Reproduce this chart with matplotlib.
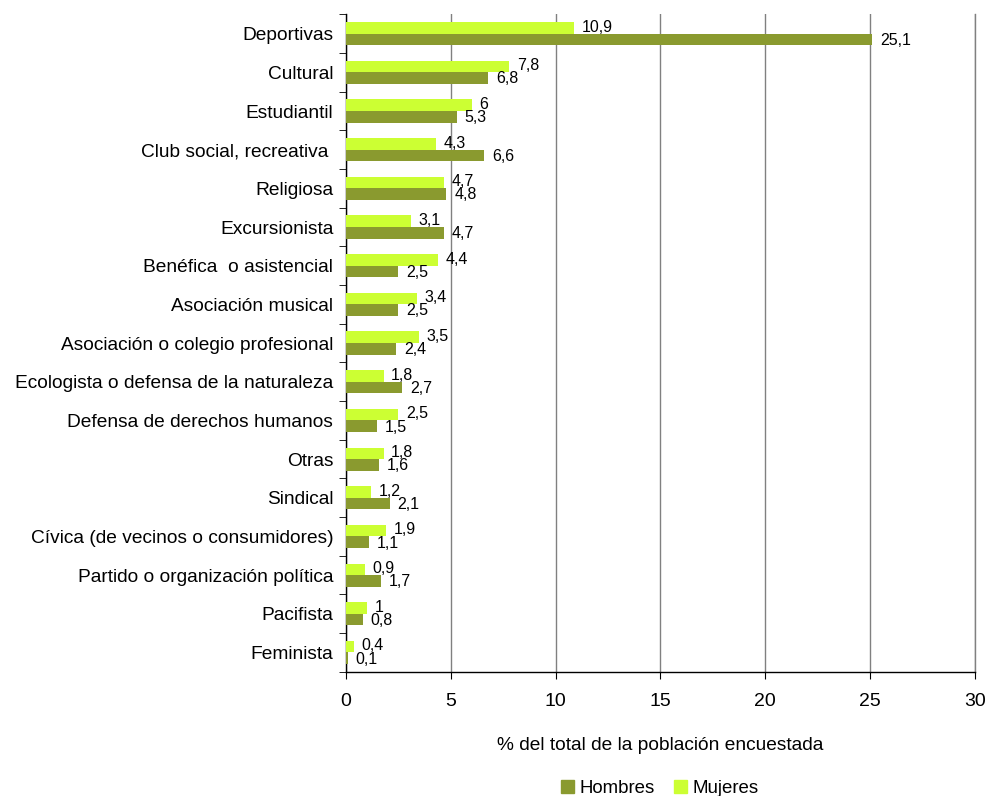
import matplotlib
matplotlib.use("Agg")
import matplotlib.pyplot as plt
import numpy as np
from matplotlib.patches import Patch

plt.rcParams["font.family"] = ["Liberation Sans", "DejaVu Sans"]

categories = ["Deportivas", "Cultural", "Estudiantil", "Club social, recreativa ",
              "Religiosa", "Excursionista", "Benéfica  o asistencial",
              "Asociación musical", "Asociación o colegio profesional",
              "Ecologista o defensa de la naturaleza", "Defensa de derechos humanos",
              "Otras", "Sindical", "Cívica (de vecinos o consumidores)",
              "Partido o organización política", "Pacifista", "Feminista"]
mujeres = [10.9, 7.8, 6, 4.3, 4.7, 3.1, 4.4, 3.4, 3.5, 1.8, 2.5, 1.8, 1.2, 1.9, 0.9, 1, 0.4]
hombres = [25.1, 6.8, 5.3, 6.6, 4.8, 4.7, 2.5, 2.5, 2.4, 2.7, 1.5, 1.6, 2.1, 1.1, 1.7, 0.8, 0.1]
xticks = [0, 5, 10, 15, 20, 25, 30]

c_h = "#8A9A2F"
c_m = "#CCFF33"

fig = plt.figure(figsize=(9.88, 7.96), dpi=100)
ax = fig.add_axes([0.350, 0.156, 0.637, 0.826])

n = len(categories)
y = np.arange(n)
h = 0.30
ax.barh(y - h / 2, mujeres, height=h, color=c_m, zorder=3)
ax.barh(y + h / 2, hombres, height=h, color=c_h, zorder=3)

def fmt(v):
    return ("%g" % v).replace(".", ",")

for i in range(n):
    ax.annotate(fmt(mujeres[i]), (mujeres[i], y[i] - h / 2 - 0.02), xytext=(5.5, 0),
                textcoords="offset points", va="center", ha="left", fontsize=11.5, zorder=4)
    ax.annotate(fmt(hombres[i]), (hombres[i], y[i] + h / 2 + 0.02), xytext=(5.5, 0),
                textcoords="offset points", va="center", ha="left", fontsize=11.5, zorder=4)

ax.set_ylim(n - 0.5, -0.5)
ax.set_xlim(0, 30)
ax.set_xticks(xticks)
ax.set_xticklabels([str(t) for t in xticks], fontsize=14)
ax.set_yticks(y)
ax.set_yticklabels(categories, fontsize=13.8)
ax.set_yticks(np.arange(-0.5, n, 1), minor=True)
ax.tick_params(axis="y", which="major", length=0, pad=9)
ax.tick_params(axis="y", which="minor", length=5, direction="out")
ax.tick_params(axis="x", length=5, direction="out", pad=10)

ax.grid(axis="x", color="#808080", linewidth=1, zorder=0)
ax.axvline(30, color="#808080", linewidth=1, zorder=0, clip_on=False)
ax.set_axisbelow(True)
for s in ["top", "right"]:
    ax.spines[s].set_visible(False)
for s in ["left", "bottom"]:
    ax.spines[s].set_color("black")
    ax.spines[s].set_linewidth(1)

ax.set_xlabel("% del total de la población encuestada", fontsize=13.8, labelpad=20)

handles = [Patch(color=c_h, label="Hombres"), Patch(color=c_m, label="Mujeres")]
fig.legend(handles=handles, loc="center", bbox_to_anchor=(0.668, 0.010), ncol=2,
           frameon=False, fontsize=13.4, handlelength=0.7, handleheight=0.7,
           handletextpad=0.3, columnspacing=1.0)

fig.savefig("out.png", dpi=100)
